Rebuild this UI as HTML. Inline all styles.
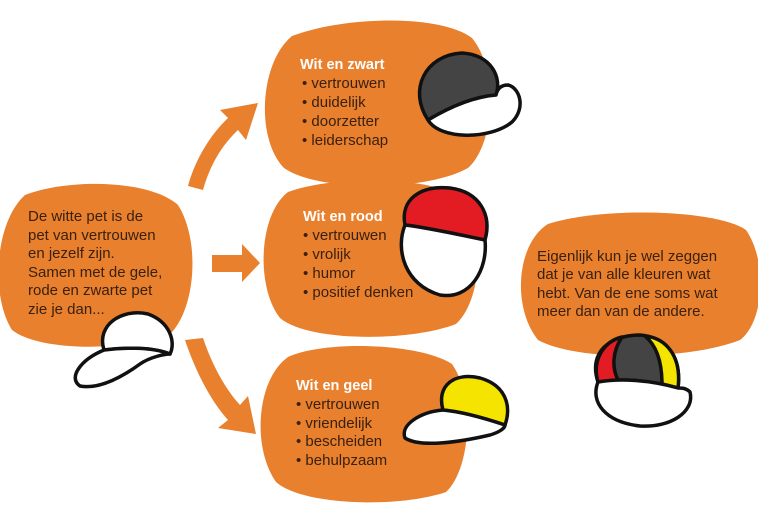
<!DOCTYPE html>
<html><head><meta charset="utf-8"><style>
html,body{margin:0;padding:0;background:#fff;width:758px;height:510px;overflow:hidden}
svg{display:block}
text{font-family:"Liberation Sans",sans-serif;font-size:15px;fill:#3a200f}
.t{fill:#fff;font-weight:bold;font-size:14.5px}
</style></head><body>
<svg width="758" height="510" viewBox="0 0 758 510">
<g fill="#e8802e">
<path d="M25 195 C70 178,150 180,178 205 C200 240,196 305,172 332 C130 352,40 352,12 330 C-10 295,-5 222,25 195Z"/>
<path d="M292 36 C345 16,440 14,472 38 C500 72,494 145,468 168 C425 192,318 192,284 168 C255 138,260 62,292 36Z"/>
<path d="M288 192 C335 175,430 176,462 198 C486 232,482 300,456 324 C410 342,308 342,280 318 C256 288,258 215,288 192Z"/>
<path d="M288 357 C325 340,420 343,452 364 C476 398,470 470,446 492 C400 508,303 506,276 482 C252 448,256 380,288 357Z"/>
<path d="M548 224 C605 206,718 210,746 230 C768 262,764 322,740 340 C690 360,578 362,538 340 C512 308,516 244,548 224Z"/>
<path d="M188 186 C195 160,210 135,228 118 L220 110 L258 103 L246 140 L238 130 C222 145,210 165,203 190Z"/>
<path d="M212 255 L242 255 L242 244 L260 263 L242 282 L242 272 L212 272Z"/>
<path d="M185 340 L203 338 C212 365,226 390,240 405 L248 396 L256 434 L218 428 L228 420 C210 400,195 370,185 340Z"/>
</g>
<text x="28" y="221">De witte pet is de</text>
<text x="28" y="240">pet van vertrouwen</text>
<text x="28" y="258">en jezelf zijn.</text>
<text x="28" y="277">Samen met de gele,</text>
<text x="28" y="295">rode en zwarte pet</text>
<text x="28" y="314">zie je dan...</text>

<text class="t" x="300" y="69">Wit en zwart</text>
<text x="302" y="88">• vertrouwen</text>
<text x="302" y="107">• duidelijk</text>
<text x="302" y="126">• doorzetter</text>
<text x="302" y="145">• leiderschap</text>

<text class="t" x="303" y="221">Wit en rood</text>
<text x="303" y="240">• vertrouwen</text>
<text x="303" y="259">• vrolijk</text>
<text x="303" y="278">• humor</text>
<text x="303" y="297">• positief denken</text>

<text class="t" x="296" y="390">Wit en geel</text>
<text x="296" y="409">• vertrouwen</text>
<text x="296" y="428">• vriendelijk</text>
<text x="296" y="446">• bescheiden</text>
<text x="296" y="465">• behulpzaam</text>

<text x="537" y="261">Eigenlijk kun je wel zeggen</text>
<text x="537" y="279">dat je van alle kleuren wat</text>
<text x="537" y="298">hebt. Van de ene soms wat</text>
<text x="537" y="316">meer dan van de andere.</text>

<g stroke="#111" stroke-width="3.5" stroke-linejoin="round">
<path d="M104 350 C96 325,122 308,148 314 C170 322,176 342,170 354 C150 346,120 348,104 350Z" fill="#fff"/>
<path d="M104 350 C80 360,68 378,80 386 C100 390,125 375,140 364 C150 357,165 354,170 354 C150 346,120 348,104 350Z" fill="#fff"/>
<path d="M428 120 C408 90,425 55,462 53 C492 55,502 78,496 95 C472 97,448 108,428 120Z" fill="#444"/>
<path d="M428 120 C440 140,490 140,512 122 C526 108,520 88,508 85 C500 85,497 90,496 95 C472 97,448 108,428 120Z" fill="#fff"/>
<path d="M405 225 C400 200,420 185,450 188 C480 192,492 215,485 240 C460 235,430 228,405 225Z" fill="#e31b23"/>
<path d="M405 225 C395 250,405 285,440 295 C470 300,488 270,485 240 C460 235,430 228,405 225Z" fill="#fff"/>
<path d="M443 410 C436 385,455 372,480 378 C505 385,512 405,505 425 C490 420,465 412,443 410Z" fill="#f5e400"/>
<path d="M443 410 C420 412,400 425,405 438 C420 448,460 442,490 435 C500 432,505 428,505 425 C490 420,465 412,443 410Z" fill="#fff"/>
<path d="M598 382 C588 352,610 335,640 335 C665 337,682 355,678 388 C650 380,620 378,598 382Z" fill="#444"/>
<path d="M598 382 C592 362,602 342,622 337 C612 352,612 368,618 380Z" fill="#e31b23"/>
<path d="M645 336 C665 338,682 355,678 388 L662 384 C662 362,657 346,645 336Z" fill="#f5e400"/>
<path d="M598 382 C590 402,605 422,640 426 C670 428,695 412,690 392 C686 388,682 388,678 388 C650 380,620 378,598 382Z" fill="#fff"/>
</g>
</svg>
</body></html>
